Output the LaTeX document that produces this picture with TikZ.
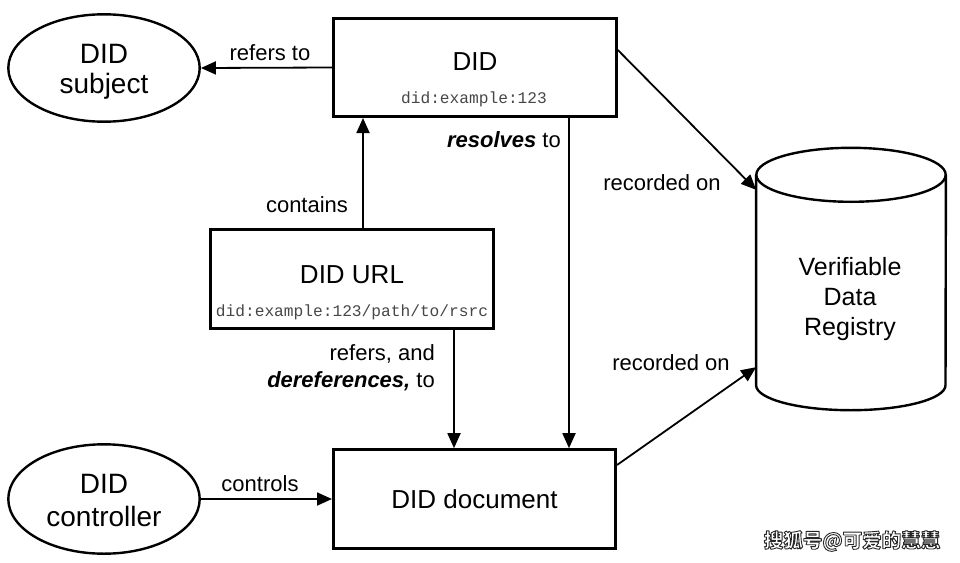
\documentclass[tikz,border=0pt]{standalone}
\usepackage{fontspec}
\setmainfont{Liberation Sans}
\setmonofont{Liberation Mono}
\newfontfamily\cjkfont{Noto Sans CJK SC}
\usetikzlibrary{arrows.meta,calc,shapes.geometric}
\tikzset{
  boxnode/.style={draw, line width=2.6pt, inner sep=0pt, minimum width=283pt, minimum height=99pt},
  ellnode/.style={draw, ellipse, line width=2.4pt, inner sep=0pt, minimum width=191.4pt},
  bigtxt/.style={anchor=base, inner sep=0pt, font=\fontsize{28}{30}\selectfont},
  boxtxt/.style={anchor=base, inner sep=0pt, font=\fontsize{26}{28}\selectfont},
  cyltxt/.style={anchor=base, inner sep=0pt, font=\fontsize{25}{27}\selectfont},
  monotxt/.style={anchor=base, inner sep=0pt, text=black!72, font=\ttfamily\fontsize{16.2}{18}\selectfont},
  lbl/.style={anchor=base, inner sep=0pt, font=\fontsize{22}{24}\selectfont},
  arr/.style={line width=1.8pt, -{Triangle[length=15pt,width=13pt]}},
  wmtxt/.style={inner sep=0pt, font=\cjkfont\bfseries\fontsize{19.5}{20}\selectfont},
}
\newcommand{\outlinedtext}[1]{\color{white}\special{pdf:literal direct 0.15 G 0.9 w 1 j 2 Tr}#1\special{pdf:literal direct 0 Tr}}
\begin{document}
\begin{tikzpicture}[x=1pt,y=-1pt]
\useasboundingbox[fill=white] (0,0) rectangle (960,562);

% nodes
\node[ellnode, minimum height=107.4pt] (subj) at (104,68) {};
\node[bigtxt] (subjA) at (104,63) {DID};
\node[bigtxt] (subjB) at (104,93) {subject};

\node[ellnode, minimum height=109.4pt] (ctrl) at (104,499) {};
\node[bigtxt] (ctrlA) at (104,493) {DID};
\node[bigtxt] (ctrlB) at (104,526) {controller};

\node[boxnode, minimum height=98.4pt] (did) at (475,67.5) {};
\node[boxtxt] (didA) at (475,70) {DID};
\node[monotxt] (didB) at (474,103) {did:example:123};

\node[boxnode, minimum width=283.4pt] (url) at (352,279) {};
\node[boxtxt] (urlA) at (352,283) {DID URL};
\node[monotxt] (urlB) at (352,316) {did:example:123/path/to/rsrc};

\node[boxnode, minimum width=282.4pt] (doc) at (474.5,499) {};
\node[boxtxt] (docA) at (474.5,508) {DID document};

% cylinder
\node[inner sep=0pt, minimum width=189.4pt, minimum height=210pt] (vdr) at (851,280) {};
\draw[line width=2.4pt] (vdr.north west) -- (vdr.south west)
   arc[start angle=180, end angle=0, x radius=94.7, y radius=25] -- (vdr.north east);
\draw[line width=2.4pt] (vdr.north) ellipse[x radius=94.7, y radius=27];
\node[cyltxt] (vdrA) at (850,275) {Verifiable};
\node[cyltxt] (vdrB) at (850,305) {Data};
\node[cyltxt] (vdrC) at (850,335) {Registry};

% helper coordinates
\coordinate (cx) at (363,0);
\coordinate (rx) at (569,0);
\coordinate (dx) at (454,0);
\coordinate (r1s) at ($(did.east)+(0,-17.5)$);
\coordinate (r2s) at ($(doc.east)+(0,-34)$);
\coordinate (r1e) at ($(vdr.north west)+(0,15)$);
\coordinate (r2e) at ($(vdr.south west)+(0,-18)$);

% connectors
\draw[arr] (did.west) -- (subj.east);
\draw[arr] (url.north -| cx) -- (did.south -| cx);
\draw[arr] (did.south -| rx) -- (doc.north -| rx);
\draw[arr] (url.south -| dx) -- (doc.north -| dx);
\draw[arr] (ctrl.east) -- (doc.west);
\draw[arr] (r1s) -- (r1e);
\draw[arr] (r2s) -- (r2e);

% labels
\node[lbl] (l1) at (270,60) {refers to};
\node[lbl] (l2) at (307,212) {contains};
\node[lbl, anchor=base east] (l3) at (561,147) {\textbf{\textit{resolves}} to};
\node[lbl, anchor=base east] (l4) at (435,360) {refers, and};
\node[lbl, anchor=base east] (l5) at (435,387) {\textbf{\textit{dereferences,}} to};
\node[lbl] (l6) at (260,491) {controls};
\node[lbl] (l7) at (662,190) {recorded on};
\node[lbl] (l8) at (671,370) {recorded on};

% watermark
\node[wmtxt] (wm) at (852,541) {\outlinedtext{搜狐号@可爱的慧慧}};
\end{tikzpicture}
\end{document}
